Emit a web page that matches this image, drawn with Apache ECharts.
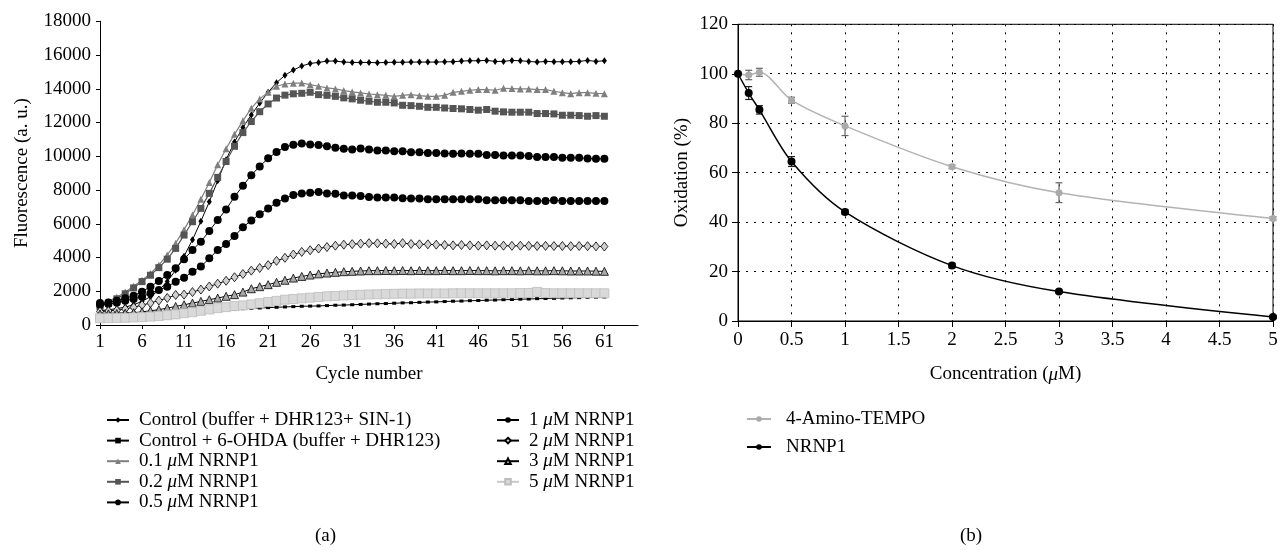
<!DOCTYPE html>
<html><head><meta charset="utf-8">
<script src="https://cdn.jsdelivr.net/npm/echarts@6/dist/echarts.min.js"></script>
<style>html,body{margin:0;padding:0;background:#fff}#c{width:1281px;height:552px}</style>
</head><body><div id="c"></div>
<script>
// ---------- Panel (a) data ----------
const cycleTicks = ['1','6','11','16','21','26','31','36','41','46','51','56','61'];
const ctrl = [850,900,970,1060,1200,1400,1680,2060,2580,3250,4080,5050,6150,7300,8550,9800,10850,11700,12450,13150,13800,14360,14800,15110,15350,15500,15560,15640,15640,15580,15560,15560,15560,15540,15560,15570,15570,15580,15580,15580,15580,15600,15600,15640,15660,15660,15680,15620,15620,15680,15660,15620,15580,15620,15600,15600,15600,15620,15680,15620,15660];
const ohda = [700,700,710,720,730,740,750,770,790,810,830,850,870,890,910,930,950,970,990,1010,1030,1050,1070,1090,1110,1120,1130,1150,1170,1180,1200,1220,1240,1260,1270,1290,1310,1320,1340,1360,1370,1390,1410,1420,1440,1450,1470,1480,1500,1510,1530,1540,1560,1570,1580,1600,1610,1620,1640,1650,1660];
const p01 = [1150,1400,1650,1950,2300,2650,3050,3550,4150,4850,5650,6520,7450,8450,9500,10450,11300,12100,12850,13400,13800,14150,14280,14330,14340,14240,14150,14050,13990,13890,13810,13750,13690,13650,13610,13550,13610,13650,13590,13550,13550,13610,13790,13850,13910,13950,13950,13910,14030,14010,13990,13990,13950,13950,13850,13770,13710,13770,13770,13730,13710];
const p02 = [1100,1300,1550,1850,2200,2570,2950,3400,3900,4540,5330,6120,6910,7800,8750,9690,10590,11400,12060,12640,13100,13450,13620,13700,13730,13790,13650,13610,13550,13460,13400,13320,13260,13200,13200,13160,13020,13000,12960,12900,12900,12860,12830,12810,12770,12730,12770,12670,12630,12610,12610,12610,12530,12530,12510,12430,12430,12410,12370,12410,12370];
const p05 = [1300,1340,1440,1580,1740,1975,2270,2610,2960,3360,3890,4440,4940,5570,6220,6850,7600,8250,8880,9400,9880,10250,10550,10680,10750,10700,10660,10600,10500,10440,10400,10460,10400,10340,10340,10300,10300,10240,10240,10200,10200,10170,10150,10170,10150,10150,10070,10070,10050,10050,10050,10010,9950,9950,9950,9910,9910,9910,9870,9850,9850];
const p1 = [1190,1240,1320,1440,1540,1680,1880,2070,2270,2570,2800,3160,3460,3950,4440,4800,5270,5790,6200,6560,6910,7250,7500,7700,7800,7840,7880,7800,7780,7680,7680,7640,7590,7550,7550,7550,7510,7490,7490,7450,7450,7450,7450,7450,7450,7450,7390,7390,7390,7390,7390,7350,7350,7350,7390,7350,7350,7350,7350,7350,7350];
const p2 = [800,830,870,950,1050,1180,1300,1450,1600,1780,1800,1950,2100,2280,2450,2620,2830,3020,3220,3380,3550,3800,3980,4180,4330,4430,4530,4620,4700,4760,4790,4820,4850,4840,4820,4800,4850,4800,4780,4780,4760,4740,4720,4740,4720,4700,4720,4700,4700,4690,4700,4690,4680,4690,4680,4680,4670,4680,4670,4660,4650];
const p3 = [650,660,680,700,730,780,840,910,1000,1100,1200,1300,1400,1500,1600,1700,1800,1950,2150,2270,2390,2530,2650,2780,2880,2960,3030,3080,3120,3160,3180,3200,3220,3220,3230,3220,3230,3220,3230,3220,3220,3230,3220,3220,3230,3220,3220,3210,3220,3220,3210,3220,3210,3210,3220,3210,3200,3200,3200,3190,3180];
const p5 = [400,410,420,430,450,470,500,530,580,630,700,760,840,920,1000,1060,1120,1160,1220,1290,1360,1430,1500,1540,1580,1620,1660,1700,1720,1750,1770,1790,1810,1820,1840,1850,1860,1860,1870,1870,1870,1870,1880,1880,1880,1880,1880,1880,1880,1880,1890,1900,1960,1890,1880,1880,1880,1880,1880,1880,1880];

// ---------- Panel (b) data ----------
const conc = [0, 0.1, 0.2, 0.5, 1, 2, 3, 5];
const tempo = [100, 99.5, 100.6, 89.3, 78.9, 62.4, 51.9, 41.5];
const tempoErr = [0, 1.9, 1.6, 1.2, 3.9, 0.7, 4.0, 0.7];
const nrnp = [100, 92.2, 85.4, 64.5, 44.1, 22.4, 11.9, 1.6];
const nrnpErr = [0, 2.6, 1.7, 2.0, 1.0, 0.9, 0.6, 0.5];

const cats = [];
for (let i = 1; i <= 65; i++) cats.push(String(i));

const FONT = 'Liberation Serif';
const FS = 19;
const chart = echarts.init(document.getElementById('c'), null, {renderer: 'canvas'});

function lineSeries(name, data, color, symbol, size, fill, border, lw) {
  return {
    name, type: 'line', xAxisIndex: 0, yAxisIndex: 0, data,
    symbol, symbolSize: size, showSymbol: true, showAllSymbol: true,
    lineStyle: {color: color, width: lw || 1},
    itemStyle: {color: fill, borderColor: border || fill, borderWidth: border ? 0.8 : 0},
    emphasis: {disabled: true}, z: 3
  };
}

function errSeries(name, xs, ys, es, color) {
  const d = xs.map((x, i) => [x, ys[i] - es[i], ys[i] + es[i]]).filter((r, i) => es[i] > 0);
  return {
    type: 'custom', xAxisIndex: 1, yAxisIndex: 1, data: d, z: 2,
    renderItem: function (params, api) {
      const lo = api.coord([api.value(0), api.value(1)]);
      const hi = api.coord([api.value(0), api.value(2)]);
      const w = 3.5;
      const st = {stroke: color, lineWidth: 1.2};
      return {type: 'group', children: [
        {type: 'line', shape: {x1: lo[0], y1: lo[1], x2: hi[0], y2: hi[1]}, style: st},
        {type: 'line', shape: {x1: lo[0]-w, y1: lo[1], x2: lo[0]+w, y2: lo[1]}, style: st},
        {type: 'line', shape: {x1: hi[0]-w, y1: hi[1], x2: hi[0]+w, y2: hi[1]}, style: st}
      ]};
    }
  };
}

const mu = n => n.replace('μM', '{i|μ}M');
const legText = {fontFamily: FONT, fontSize: FS, color: '#000', lineHeight: 20.6, padding: [0,0,0,5],
  rich: {i: {fontFamily: FONT, fontSize: FS, fontStyle: 'italic', color: '#000', lineHeight: 20.6}}};

const option = {
  animation: false,
  backgroundColor: '#fff',
  textStyle: {fontFamily: FONT},
  grid: [
    {left: 100, top: 21.25, width: 538, height: 303.75},
    {left: 738, top: 24.3, width: 535, height: 296.7, show: true, borderColor: '#000', borderWidth: 1, backgroundColor: 'transparent'}
  ],
  xAxis: [
    {gridIndex: 0, type: 'category', data: cats, boundaryGap: false,
     name: 'Cycle number', nameLocation: 'middle', nameGap: 40,
     nameTextStyle: {fontFamily: FONT, fontSize: FS, color: '#000'},
     axisLine: {lineStyle: {color: '#000', width: 1}},
     axisTick: {interval: 4, length: 4, lineStyle: {color: '#000'}},
     axisLabel: {interval: 4, margin: 8, fontFamily: FONT, fontSize: FS, color: '#000',
       formatter: v => cycleTicks.indexOf(v) >= 0 ? v : ''},
     splitLine: {show: false}},
    {gridIndex: 1, type: 'value', min: 0, max: 5, interval: 0.5,
     name: '{n|Concentration (}{i|μ}{n|M)}', nameLocation: 'middle', nameGap: 44,
     nameTextStyle: {rich: {n: {fontFamily: FONT, fontSize: FS, color: '#000'}, i: {fontFamily: FONT, fontSize: FS, fontStyle: 'italic', color: '#000'}}},
     axisLine: {lineStyle: {color: '#000', width: 1}},
     axisTick: {length: 6, lineStyle: {color: '#000'}},
     axisLabel: {margin: 10, fontFamily: FONT, fontSize: FS, color: '#000'},
     splitLine: {show: true, lineStyle: {color: '#000', type: [2, 6], width: 1}}}
  ],
  yAxis: [
    {gridIndex: 0, type: 'value', min: 0, max: 18000, interval: 2000,
     name: 'Fluorescence (a. u.)', nameLocation: 'middle', nameGap: 68,
     nameTextStyle: {fontFamily: FONT, fontSize: FS, color: '#000'},
     axisLine: {show: true, lineStyle: {color: '#000', width: 1}},
     axisTick: {show: true, length: 4, lineStyle: {color: '#000'}},
     axisLabel: {margin: 9, fontFamily: FONT, fontSize: FS, color: '#000', formatter: v => String(v)},
     splitLine: {show: false}},
    {gridIndex: 1, type: 'value', min: 0, max: 120, interval: 20,
     name: 'Oxidation (%)', nameLocation: 'middle', nameGap: 46,
     nameTextStyle: {fontFamily: FONT, fontSize: FS, color: '#000'},
     axisLine: {show: true, lineStyle: {color: '#000', width: 1}},
     axisTick: {show: true, length: 6, lineStyle: {color: '#000'}},
     axisLabel: {margin: 10, fontFamily: FONT, fontSize: FS, color: '#000'},
     splitLine: {show: true, lineStyle: {color: '#000', type: [2, 6], width: 1}}}
  ],
  legend: [
    {orient: 'vertical', left: 101, top: 404.7, itemWidth: 22, itemHeight: 7, itemGap: 0,
     data: ['Control (buffer + DHR123+ SIN-1)', 'Control + 6-OHDA (buffer + DHR123)', '0.1 μM NRNP1', '0.2 μM NRNP1', '0.5 μM NRNP1'],
     formatter: mu, textStyle: legText, selectedMode: false},
    {orient: 'vertical', left: 491, top: 404.7, itemWidth: 22, itemHeight: 7, itemGap: 0,
     data: ['1 μM NRNP1', '2 μM NRNP1', '3 μM NRNP1', '5 μM NRNP1'],
     formatter: mu, textStyle: legText, selectedMode: false},
    {orient: 'vertical', left: 741, top: 404, itemWidth: 24, itemHeight: 7, itemGap: 8,
     data: ['4-Amino-TEMPO', 'NRNP1'],
     textStyle: {fontFamily: FONT, fontSize: FS, color: '#000', lineHeight: 20, padding: [0,0,0,10]}, selectedMode: false}
  ],
  graphic: [
    {type: 'text', left: 327 - 12, top: 527, style: {text: '(a)', font: FS + 'px "' + FONT + '"', fill: '#000'}},
    {type: 'text', left: 972 - 12, top: 527, style: {text: '(b)', font: FS + 'px "' + FONT + '"', fill: '#000'}}
  ],
  series: [
    lineSeries('Control (buffer + DHR123+ SIN-1)', ctrl, '#000', 'diamond', [5, 7], '#000', null, 1),
    lineSeries('Control + 6-OHDA (buffer + DHR123)', ohda, '#000', 'rect', [4, 3], '#000', null, 1),
    lineSeries('0.1 μM NRNP1', p01, '#7f7f7f', 'triangle', 7, '#7f7f7f', null, 1.2),
    lineSeries('0.2 μM NRNP1', p02, '#555555', 'rect', 7, '#555555', null, 1.2),
    lineSeries('0.5 μM NRNP1', p05, '#000', 'circle', 8, '#000', null, 1),
    lineSeries('1 μM NRNP1', p1, '#000', 'circle', 8, '#000', null, 1),
    lineSeries('2 μM NRNP1', p2, '#000', 'diamond', [7, 9], '#d0d0d0', '#000', 1),
    lineSeries('3 μM NRNP1', p3, '#000', 'triangle', 8, '#a8a8a8', '#000', 1),
    lineSeries('5 μM NRNP1', p5, '#c8c8c8', 'rect', 9, '#d9d9d9', '#bdbdbd', 1.2),
    errSeries('tempoErr', conc, tempo, tempoErr, '#666'),
    errSeries('nrnpErr', conc, nrnp, nrnpErr, '#222'),
    {name: '4-Amino-TEMPO', type: 'line', xAxisIndex: 1, yAxisIndex: 1,
     data: conc.map((x, i) => [x, tempo[i]]), smooth: 0.3,
     symbol: 'circle', symbolSize: 7, lineStyle: {color: '#b3b3b3', width: 1.5},
     itemStyle: {color: '#aaaaaa'}, z: 3},
    {name: 'NRNP1', type: 'line', xAxisIndex: 1, yAxisIndex: 1,
     data: conc.map((x, i) => [x, nrnp[i]]), smooth: 0.3,
     symbol: 'circle', symbolSize: 8, lineStyle: {color: '#000', width: 1.5},
     itemStyle: {color: '#000'}, z: 4}
  ]
};
chart.setOption(option);
</script></body></html>
